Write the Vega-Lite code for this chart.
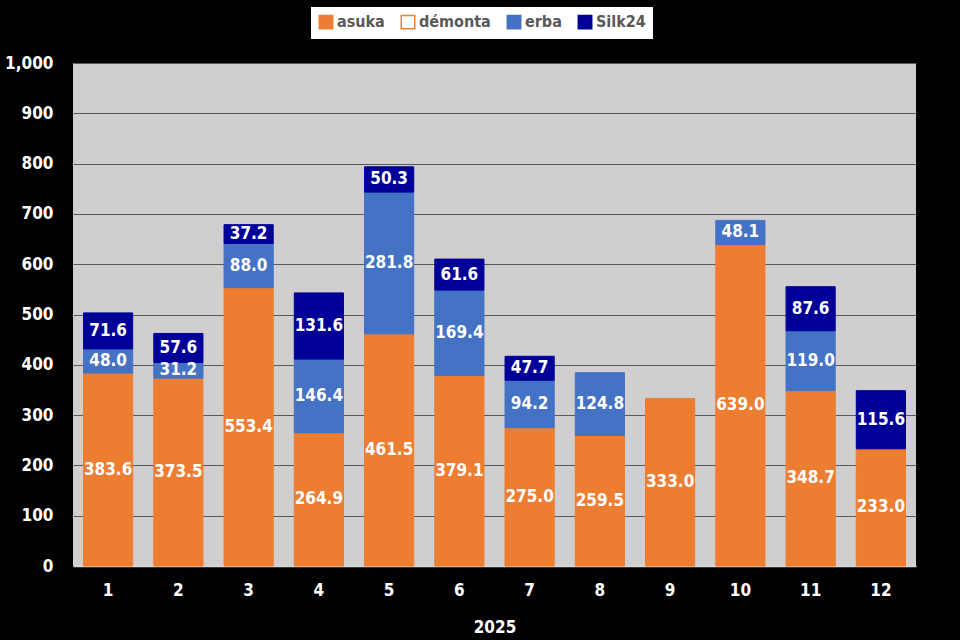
{
  "$schema": "https://vega.github.io/schema/vega-lite/v6.json",
  "width": 843,
  "height": 503,
  "autosize": {"type": "none"},
  "padding": {"left": 73, "top": 63, "right": 44, "bottom": 74},
  "background": "#000000",
  "view": {"fill": "#D0CECE", "stroke": null},
  "config": {"font": "DejaVu Sans Condensed, DejaVu Sans, sans-serif"},
  "data": {
    "values": [
      {"month": 1, "series": "asuka", "value": 383.6},
      {"month": 1, "series": "erba", "value": 48.0},
      {"month": 1, "series": "Silk24", "value": 71.6},
      {"month": 2, "series": "asuka", "value": 373.5},
      {"month": 2, "series": "erba", "value": 31.2},
      {"month": 2, "series": "Silk24", "value": 57.6},
      {"month": 3, "series": "asuka", "value": 553.4},
      {"month": 3, "series": "erba", "value": 88.0},
      {"month": 3, "series": "Silk24", "value": 37.2},
      {"month": 4, "series": "asuka", "value": 264.9},
      {"month": 4, "series": "erba", "value": 146.4},
      {"month": 4, "series": "Silk24", "value": 131.6},
      {"month": 5, "series": "asuka", "value": 461.5},
      {"month": 5, "series": "erba", "value": 281.8},
      {"month": 5, "series": "Silk24", "value": 50.3},
      {"month": 6, "series": "asuka", "value": 379.1},
      {"month": 6, "series": "erba", "value": 169.4},
      {"month": 6, "series": "Silk24", "value": 61.6},
      {"month": 7, "series": "asuka", "value": 275.0},
      {"month": 7, "series": "erba", "value": 94.2},
      {"month": 7, "series": "Silk24", "value": 47.7},
      {"month": 8, "series": "asuka", "value": 259.5},
      {"month": 8, "series": "erba", "value": 124.8},
      {"month": 9, "series": "asuka", "value": 333.0},
      {"month": 10, "series": "asuka", "value": 639.0},
      {"month": 10, "series": "erba", "value": 48.1},
      {"month": 11, "series": "asuka", "value": 348.7},
      {"month": 11, "series": "erba", "value": 119.0},
      {"month": 11, "series": "Silk24", "value": 87.6},
      {"month": 12, "series": "asuka", "value": 233.0},
      {"month": 12, "series": "Silk24", "value": 115.6}
    ]
  },
  "transform": [
    {"calculate": "indexof(['asuka','démonta','erba','Silk24'], datum.series)", "as": "ord"},
    {"stack": "value", "groupby": ["month"], "sort": [{"field": "ord", "order": "ascending"}], "as": ["v0", "v1"]},
    {"calculate": "(datum.v0 + datum.v1) / 2", "as": "mid"}
  ],
  "encoding": {
    "x": {
      "field": "month",
      "type": "ordinal",
      "scale": {"paddingInner": 0.3, "paddingOuter": 0.15},
      "axis": {
        "labelAngle": 0,
        "labelColor": "#FFFFFF",
        "labelFontSize": 17,
        "labelFontWeight": "bold",
        "labelPadding": 16,
        "ticks": false,
        "domain": true,
        "domainColor": "#D9D9D9",
        "domainWidth": 1.5,
        "title": "2025",
        "titleColor": "#FFFFFF",
        "titleFontSize": 17,
        "titleFontWeight": "bold",
        "titlePadding": 21
      }
    }
  },
  "layer": [
    {
      "mark": {"type": "bar", "strokeWidth": 1},
      "encoding": {
        "y": {
          "field": "v0",
          "type": "quantitative",
          "scale": {"domain": [0, 1000], "nice": false},
          "axis": {
            "values": [0, 100, 200, 300, 400, 500, 600, 700, 800, 900, 1000],
            "format": ",d",
            "title": null,
            "domain": false,
            "ticks": false,
            "grid": true,
            "gridColor": "#595959",
            "gridWidth": 1.2,
            "labelColor": "#FFFFFF",
            "labelFontSize": 17,
            "labelFontWeight": "bold",
            "labelPadding": 20
          }
        },
        "y2": {"field": "v1"},
        "fill": {
          "field": "series",
          "type": "nominal",
          "scale": {"domain": ["asuka", "démonta", "erba", "Silk24"], "range": ["#ED7D31", "#FFFFFF", "#4472C4", "#000099"]},
          "legend": {
            "title": null,
            "orient": "none",
            "legendX": 238,
            "legendY": -56,
            "direction": "horizontal",
            "fillColor": "#FFFFFF",
            "padding": 7,
            "labelColor": "#595959",
            "labelFontSize": 16,
            "labelFontWeight": "bold",
            "symbolType": "square",
            "symbolSize": 180,
            "symbolStrokeWidth": 1.5,
            "columnPadding": 13,
            "labelOffset": 3
          }
        },
        "stroke": {
          "field": "series",
          "type": "nominal",
          "scale": {"domain": ["asuka", "démonta", "erba", "Silk24"], "range": ["#ED7D31", "#ED7D31", "#4472C4", "#000099"]},
          "legend": {
            "title": null,
            "orient": "none",
            "legendX": 238,
            "legendY": -56,
            "direction": "horizontal",
            "fillColor": "#FFFFFF",
            "padding": 7,
            "labelColor": "#595959",
            "labelFontSize": 16,
            "labelFontWeight": "bold",
            "symbolType": "square",
            "symbolSize": 180,
            "symbolStrokeWidth": 1.5,
            "columnPadding": 13,
            "labelOffset": 3
          }
        }
      }
    },
    {
      "mark": {"type": "text", "color": "#FFFFFF", "fontSize": 17, "fontWeight": "bold", "baseline": "middle", "align": "center"},
      "encoding": {
        "y": {"field": "mid", "type": "quantitative"},
        "text": {"field": "value", "type": "quantitative", "format": ".1f"}
      }
    }
  ]
}
